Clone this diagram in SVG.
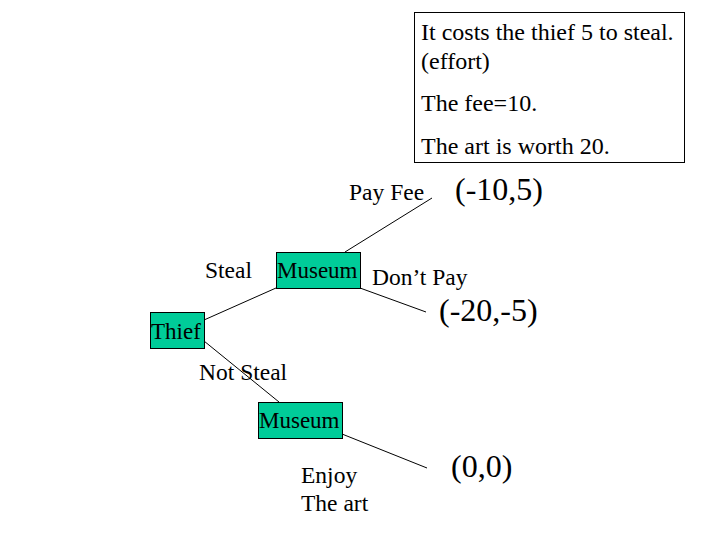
<svg xmlns="http://www.w3.org/2000/svg" width="720" height="540" viewBox="0 0 720 540">
<style>
text{font-family:"Liberation Serif","Times New Roman",serif;fill:#000}
.n{fill:#00CC99;stroke:#000;stroke-width:1}
.t{font-size:23px}
.l{font-size:23.500px}
.p{font-size:32px}
.b{font-size:24px}
.c line{stroke:#000;stroke-width:1}
</style>
<rect width="720" height="540" fill="#fff"/>
<g id="note">
<rect x="414.500" y="12.500" width="270" height="150" fill="#fff" stroke="#000" stroke-width="1"/>
<text class="b" x="421" y="40">It costs the thief 5 to steal.</text>
<text class="b" x="421" y="69">(effort)</text>
<text class="b" x="421" y="111">The fee=10.</text>
<text class="b" x="421" y="154">The art is worth 20.</text>
</g>
<g class="c" id="connectors">
<line x1="204" y1="320" x2="276" y2="288"/>
<line x1="345" y1="252" x2="432" y2="198"/>
<line x1="360" y1="288" x2="426" y2="312"/>
<line x1="204" y1="341" x2="279" y2="402"/>
<line x1="342" y1="434" x2="427" y2="468"/>
</g>
<g id="thief">
<rect class="n" x="150.500" y="312.500" width="54" height="36"/>
<text class="t" x="151" y="339">Thief</text>
</g>
<g id="museum1">
<rect class="n" x="276.500" y="252.500" width="84" height="36"/>
<text class="t" x="277" y="278">Museum</text>
</g>
<g id="museum2">
<rect class="n" x="258.500" y="402.500" width="84" height="36"/>
<text class="t" x="259" y="428">Museum</text>
</g>
<g id="labels">
<text class="l" x="349" y="200">Pay Fee</text>
<text class="p" x="455" y="200">(-10,5)</text>
<text class="l" x="205" y="278">Steal</text>
<text class="l" x="372" y="285">Don’t Pay</text>
<text class="p" x="439" y="321">(-20,-5)</text>
<text class="l" x="199" y="380">Not Steal</text>
<text class="l" x="301" y="483">Enjoy</text>
<text class="l" x="301" y="511">The art</text>
<text class="p" x="451" y="477">(0,0)</text>
</g>
</svg>
